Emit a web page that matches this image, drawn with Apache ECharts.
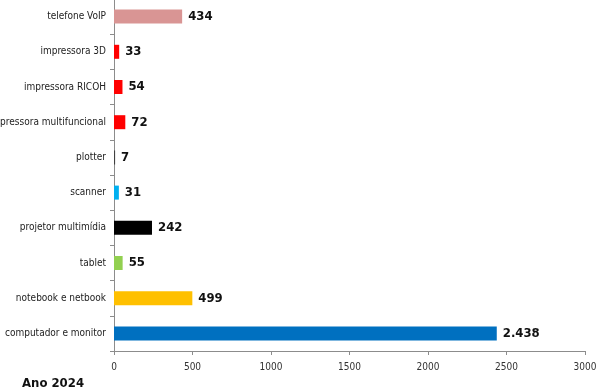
<!DOCTYPE html>
<html><head><meta charset="utf-8">
<script src="https://cdn.jsdelivr.net/npm/echarts@6/dist/echarts.min.js"></script>
<style>html,body{margin:0;padding:0;background:#fff}#c{width:603px;height:392px}</style>
</head><body><div id="c"></div>
<script>
const categories = ["computador e monitor","notebook e netbook","tablet","projetor multimídia","scanner","plotter","impressora multifuncional","impressora RICOH","impressora 3D","telefone VoIP"];
const values = [2438,499,55,242,31,7,72,54,33,434];
const colors = ["#0070c0","#ffc000","#92d050","#000000","#00b0f0","#404040","#ff0000","#ff0000","#ff0000","#d99594"];
const xTicks = [0,500,1000,1500,2000,2500,3000];
const title = "Ano 2024";

const chart = echarts.init(document.getElementById('c'), null, {renderer:'canvas'});
chart.setOption({
  animation:false,
  backgroundColor:'#fff',
  title:{text:title,left:17,top:372,textStyle:{fontFamily:'DejaVu Sans Condensed, Liberation Sans, Arial',fontSize:13,fontWeight:'bold',color:'#111'}},
  grid:{left:114,right:18,top:-1,height:352,containLabel:false,outerBoundsMode:'none'},
  xAxis:{type:'value',min:xTicks[0],max:xTicks[xTicks.length-1],interval:500,
    axisLine:{show:true,lineStyle:{color:'#8c8c8c'}},
    axisTick:{show:true,length:4,lineStyle:{color:'#8c8c8c'}},
    splitLine:{show:false},
    axisLabel:{color:'#333',fontSize:10,fontFamily:'DejaVu Sans Condensed, Liberation Sans, Arial',margin:11,formatter:v=>String(v)}},
  yAxis:{type:'category',data:categories,
    axisLine:{show:true,lineStyle:{color:'#8c8c8c'}},
    axisTick:{show:true,length:4,lineStyle:{color:'#8c8c8c'}},
    axisLabel:{color:'#222',fontSize:10,fontFamily:'DejaVu Sans Condensed, Liberation Sans, Arial',margin:8}},
  series:[{type:'bar',barWidth:14,
    data:values.map((v,i)=>({value:v,itemStyle:{color:colors[i]}})),
    label:{show:true,position:'right',distance:6,color:'#111',fontWeight:'bold',fontSize:13,
      fontFamily:'DejaVu Sans Condensed, Liberation Sans, Arial',
      formatter:p=>p.value.toLocaleString('de-DE')}}]
});
</script></body></html>
